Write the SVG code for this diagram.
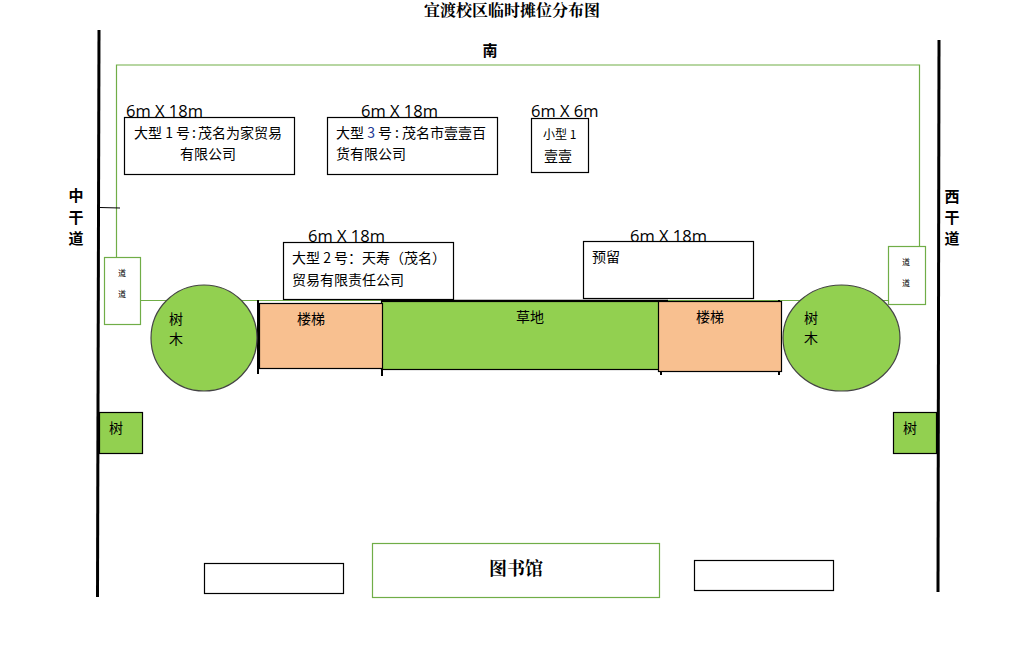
<svg xmlns="http://www.w3.org/2000/svg" width="1027" height="648" viewBox="0 0 1027 648">
<style>
text{font-family:"Noto Sans CJK SC","Liberation Sans",sans-serif;fill:#000}
.t{font-size:14px}
.d{font-size:16.500px;font-family:"Open Sans","Liberation Sans",sans-serif}
.b{font-size:15px;font-weight:700}
.s{font-size:8px}
.box{fill:#fff;stroke:#000;stroke-width:1.2}
.gb{fill:#fff;stroke:#70ad47;stroke-width:1.2}
.g{fill:#92d050;stroke:#000;stroke-width:1.2}
.o{fill:#f8c090;stroke:#000;stroke-width:1.2}
.c{fill:#92d050;stroke:#444;stroke-width:1.2}
.road{stroke:#000;stroke-width:3;fill:none}
.gl{stroke:#70ad47;stroke-width:1.2;fill:none}
.tick{stroke:#000;stroke-width:2;fill:none}
</style>
<rect width="1027" height="648" fill="#fff"/>
<g id="connectors">
<path class="road" d="M99 30L97.500 597"/>
<path class="road" d="M939 40L938 592"/>
<path class="gl" d="M116.500 258V65H919.500V247"/>
<path class="gl" d="M140 300.500H920"/>
<path d="M100 207.500L120 208" stroke="#000" stroke-width="1" fill="none"/>
<path class="tick" d="M258 300V374M382 300V376M661 300V375M779 300V375"/>
</g>
<text x="512" y="16" text-anchor="middle" style="font-size:16px;font-weight:700;font-family:'Noto Serif CJK SC','Noto Sans CJK SC',serif">宜渡校区临时摊位分布图</text>
<text x="490" y="56" text-anchor="middle" class="b">南</text>
<g id="west-road-label"><text x="76" y="201" text-anchor="middle" class="b">中</text><text x="76" y="223" text-anchor="middle" class="b">干</text><text x="76" y="244" text-anchor="middle" class="b">道</text></g>
<g id="east-road-label"><text x="952" y="202" text-anchor="middle" class="b">西</text><text x="952" y="223" text-anchor="middle" class="b">干</text><text x="952" y="244" text-anchor="middle" class="b">道</text></g>
<g id="stall-large-1"><text x="126" y="117" class="d">6m X 18m</text><rect class="box" x="124.500" y="117.500" width="170" height="57"/><text x="134" y="138" class="t">大型 1 号<tspan dx="2">:</tspan><tspan dx="2">茂名为家贸易</tspan></text><text x="208" y="159" text-anchor="middle" class="t">有限公司</text></g>
<g id="stall-large-3"><text x="361" y="117" class="d">6m X 18m</text><rect class="box" x="327.500" y="117.500" width="170" height="57"/><text x="336" y="138" class="t">大型 <tspan fill="#1f3a93">3</tspan> 号<tspan dx="3">:</tspan><tspan dx="3">茂名市壹壹百</tspan></text><text x="336" y="159" class="t">货有限公司</text></g>
<g id="stall-small-1"><text x="531" y="117" class="d">6m X 6m</text><rect class="box" x="531.500" y="118.500" width="57" height="54"/><text x="543" y="139" style="font-size:12px">小型 1</text><text x="544" y="161" class="t">壹壹</text></g>
<g id="stall-large-2"><text x="308" y="242" class="d">6m X 18m</text><rect class="box" x="283.500" y="242.500" width="170" height="57"/><text x="292" y="263" class="t">大型 2 号：天寿（茂名）</text><text x="292" y="285" class="t">贸易有限责任公司</text></g>
<g id="stall-reserved"><text x="630" y="242" class="d">6m X 18m</text><rect class="box" x="583.500" y="241.500" width="170" height="57"/><text x="592" y="262" class="t">预留</text></g>
<g id="passage-west"><rect class="gb" x="104.500" y="257.500" width="36" height="67"/><text x="122" y="276" text-anchor="middle" class="s">道</text><text x="122" y="297" text-anchor="middle" class="s">道</text></g>
<g id="passage-east"><rect class="gb" x="888.500" y="246.500" width="37" height="58"/><text x="906" y="265" text-anchor="middle" class="s">道</text><text x="906" y="286" text-anchor="middle" class="s">道</text></g>
<g id="tree-west"><circle class="c" cx="204" cy="338" r="53"/><text x="169" y="324" class="t">树</text><text x="169" y="344" class="t">木</text></g>
<g id="tree-east"><ellipse class="c" cx="841.500" cy="338" rx="58.500" ry="53"/><text x="804" y="323" class="t">树</text><text x="804" y="343" class="t">木</text></g>
<g id="grass"><rect class="g" x="381.500" y="301.500" width="278" height="68"/><path d="M381 300.500H668" stroke="#000" stroke-width="1.500" fill="none"/><text x="516" y="322" class="t">草地</text></g>
<g id="stairs-west"><rect class="o" x="259.500" y="303.500" width="123" height="65"/><text x="297" y="324" class="t">楼梯</text></g>
<g id="stairs-east"><rect class="o" x="658.500" y="301.500" width="123" height="70"/><text x="696" y="322" class="t">楼梯</text></g>
<g id="small-tree-west"><rect class="g" x="99.500" y="412.500" width="43" height="41"/><text x="109" y="433" class="t">树</text></g>
<g id="small-tree-east"><rect class="g" x="893.500" y="412.500" width="43" height="41"/><text x="903" y="433" class="t">树</text></g>
<g id="library"><rect class="gb" x="372.500" y="543.500" width="287" height="54"/><text x="516" y="575" text-anchor="middle" style="font-size:18px;font-weight:700;font-family:'Noto Serif CJK SC','Noto Sans CJK SC',serif">图书馆</text></g>
<g id="box-left"><rect class="box" x="204.500" y="563.500" width="139" height="30"/></g>
<g id="box-right"><rect class="box" x="694.500" y="560.500" width="139" height="30"/></g>
</svg>
